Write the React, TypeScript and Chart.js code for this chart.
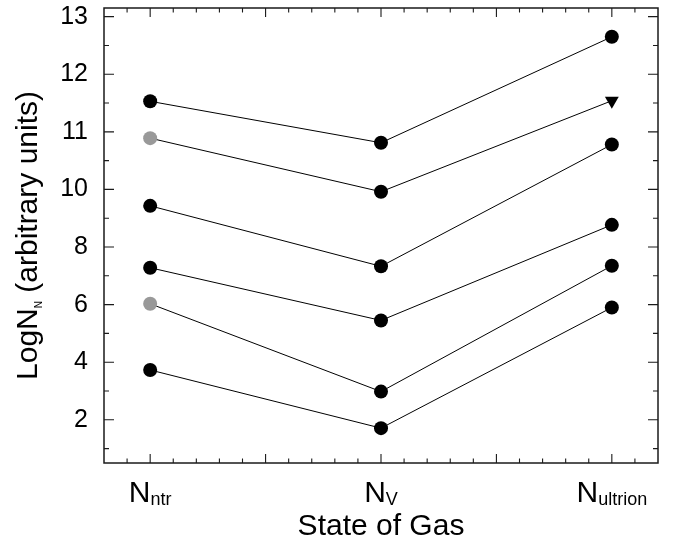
import { useEffect, useRef } from 'react'
import { Chart, LinearScale, registerables } from 'chart.js'

Chart.register(...registerables)

// y axis is labelled 2,4,6,8 then 10,11,12,13 at equal spacing
const yTickValues = [2, 4, 6, 8, 10, 11, 12, 13]
const yMinorValues = [1, 3, 5, 7, 9, 10.5, 11.5, 12.5]
const xMajorTicks = [0, 0.5, 1, 1.5, 2]
const xMinorTicks = [-0.1, 0.1, 0.2, 0.3, 0.4, 0.6, 0.7, 0.8, 0.9, 1.1, 1.2, 1.3, 1.4, 1.6, 1.7, 1.8, 1.9, 2.1]
const gasStates = ['ntr', 'V', 'ultrion']

// LogN per state (ntr, V, ultrion), top line to bottom line
const row1 = [11.53, 10.81, 12.65]
const row2 = [10.89, 9.92, 11.54]
const row3 = [9.43, 7.33, 10.78]
const row4 = [7.28, 5.45, 8.77]
const row5 = [6.03, 2.98, 7.35]
const row6 = [3.73, 1.71, 5.9]
const rows = [row1, row2, row3, row4, row5, row6]

const greyStartRows = [1, 4]   // first marker drawn grey
const limitRows = [1]          // last marker is a down triangle

const FONT = "'Liberation Sans', Arial, Helvetica, sans-serif"
const NARROW = "'Liberation Sans Narrow', 'Liberation Sans', Arial, sans-serif"

// piecewise position of a value along the stretched axis
const toPos = (v: number) => {
  const t = yTickValues
  if (v <= t[0]) return (v - t[0]) / (t[1] - t[0])
  for (let i = 1; i < t.length; i++) {
    if (v <= t[i]) return i - 1 + (v - t[i - 1]) / (t[i] - t[i - 1])
  }
  const n = t.length
  return n - 1 + (v - t[n - 1]) / (t[n - 1] - t[n - 2])
}

class StretchScale extends LinearScale {
  static id = 'stretch'
  static defaults = LinearScale.defaults
  buildTicks() { return yTickValues.map((value) => ({ value })) }
  getPixelForValue(value: number) {
    const lo = toPos(this.min), hi = toPos(this.max)
    return this.getPixelForDecimal((toPos(value) - lo) / (hi - lo))
  }
  getValueForPixel() { return 0 }
}
Chart.register(StretchScale)

const framePlugin = {
  id: 'frame',
  afterDraw(chart: any) {
    const { ctx, chartArea: { left, right, top, bottom }, scales: { x, y } } = chart
    ctx.save()
    ctx.strokeStyle = '#1a1a1a'
    ctx.lineWidth = 1.5
    ctx.strokeRect(left, top, right - left, bottom - top)

    ctx.lineWidth = 1.1
    ctx.beginPath()
    const xt = (v: number, len: number) => {
      const px = x.getPixelForValue(v)
      ctx.moveTo(px, bottom); ctx.lineTo(px, bottom - len)
      ctx.moveTo(px, top); ctx.lineTo(px, top + len)
    }
    const yt = (v: number, len: number) => {
      const py = y.getPixelForValue(v)
      ctx.moveTo(left, py); ctx.lineTo(left + len, py)
      ctx.moveTo(right, py); ctx.lineTo(right - len, py)
    }
    xMajorTicks.forEach((v) => xt(v, 9))
    xMinorTicks.forEach((v) => xt(v, 4.5))
    yTickValues.forEach((v) => yt(v, 10))
    yMinorValues.forEach((v) => yt(v, 5))
    ctx.stroke()

    ctx.fillStyle = '#000'
    ctx.textAlign = 'left'
    ctx.textBaseline = 'alphabetic'
    const mainFont = `30px ${FONT}`
    const subFont = `18px ${NARROW}`
    gasStates.forEach((s, i) => {
      ctx.font = mainFont
      const w1 = ctx.measureText('N').width
      ctx.font = subFont
      const w2 = ctx.measureText(s).width
      const x0 = x.getPixelForValue(i) - (w1 + w2) / 2
      ctx.font = mainFont
      ctx.fillText('N', x0, bottom + 39)
      ctx.font = subFont
      ctx.fillText(s, x0 + w1, bottom + 42)
    })

    ctx.font = mainFont
    ctx.textAlign = 'center'
    ctx.fillText('State of Gas', (left + right) / 2, bottom + 72)

    // rotated y title with subscript
    ctx.translate(37, (top + bottom) / 2)
    ctx.rotate(-Math.PI / 2)
    ctx.textAlign = 'left'
    const tFont = `30px ${FONT}`
    const sFont = `10px ${NARROW}`
    ctx.font = tFont
    const a = ctx.measureText('LogN').width
    const c = ctx.measureText(' (arbitrary units)').width
    ctx.font = sFont
    const b = ctx.measureText('N').width
    let px = -(a + b + c) / 2
    ctx.font = tFont
    ctx.fillText('LogN', px, 0)
    px += a
    ctx.font = sFont
    ctx.fillText('N', px, 5)
    px += b
    ctx.font = tFont
    ctx.fillText(' (arbitrary units)', px, 0)
    ctx.restore()
  },
}

const App = () => {
  const canvasRef = useRef<HTMLCanvasElement>(null)

  useEffect(() => {
    document.body.style.margin = '0'
    if (!canvasRef.current) return
    const chart = new Chart(canvasRef.current, {
      type: 'line',
      data: {
        datasets: rows.map((row, r) => ({
          data: row.map((v, i) => ({ x: i, y: v })),
          borderColor: '#000',
          borderWidth: 1,
          pointBorderWidth: 0,
          pointBackgroundColor: row.map((_, i) => (i === 0 && greyStartRows.includes(r) ? '#999999' : '#000')),
          pointStyle: row.map((_, i) => (i === 2 && limitRows.includes(r) ? 'triangle' : 'circle')),
          pointRotation: row.map((_, i) => (i === 2 && limitRows.includes(r) ? 180 : 0)),
          pointRadius: row.map((_, i) => (i === 2 && limitRows.includes(r) ? 8 : 7)),
        })),
      },
      options: {
        animation: false,
        responsive: true,
        maintainAspectRatio: false,
        events: [],
        layout: { padding: { left: 0, top: 6, right: 17, bottom: 0 } },
        plugins: { legend: { display: false }, tooltip: { enabled: false } },
        scales: {
          x: {
            type: 'linear', min: -0.2, max: 2.2,
            grid: { display: false, drawTicks: false }, border: { display: false },
            ticks: { display: false },
            afterFit: (s: any) => { s.height = 79; s.paddingLeft = 0; s.paddingRight = 0 },
          },
          y: {
            type: 'stretch', min: 0.5, max: 13.15,
            grid: { display: false, drawTicks: false }, border: { display: false },
            ticks: {
              autoSkip: false, padding: 16, color: '#000',
              font: { size: 25, family: FONT },
              callback: (v: any) => String(v),
            },
            afterFit: (s: any) => { s.width = 104; s.paddingTop = 0; s.paddingBottom = 0 },
          },
        },
      } as any,
      plugins: [framePlugin],
    })
    return () => { chart.destroy() }
  }, [])

  return (
    <div style={{ position: 'relative', width: 675, height: 542, background: '#fff' }}>
      <canvas ref={canvasRef} />
    </div>
  )
}

export default App
